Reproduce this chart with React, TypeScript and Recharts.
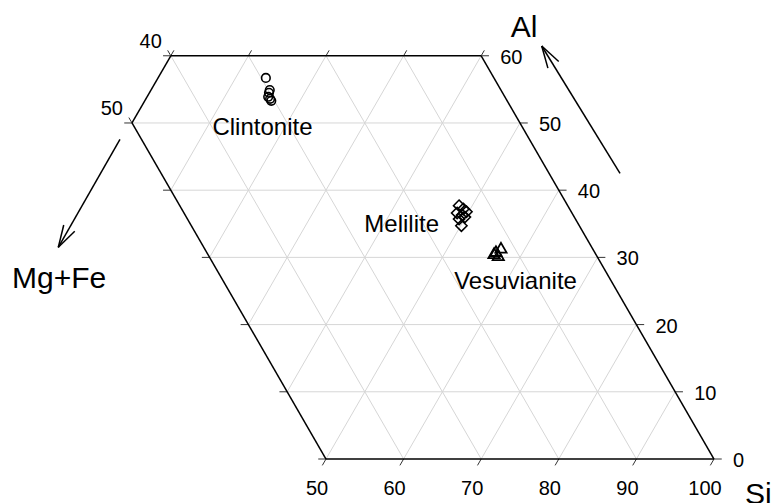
import React from "react";
import { ScatterChart, Scatter, XAxis, YAxis, ReferenceLine, ReferenceDot } from "recharts";

// Composition (mol %): Si and Al, with Mg+Fe = 100 - Si - Al
const CLINTONITE_SI = [13.9, 15.3, 15.4, 15.6, 16.0, 16.3];
const CLINTONITE_AL = [56.7, 54.9, 54.5, 53.9, 53.6, 53.3];
const MELILITE_SI = [48.3, 49.1, 49.7, 48.6, 49.4, 49.9, 49.3, 50.1];
const MELILITE_AL = [37.7, 37.2, 36.8, 36.6, 36.3, 36.0, 35.7, 34.7];
const VESUVIANITE_SI = [56.9, 56.5, 57.1, 56.4];
const VESUVIANITE_AL = [31.3, 30.8, 30.2, 30.5];

// axis ticks
const SI_TICKS = [50, 60, 70, 80, 90, 100];
const SI_TOP_TICKS = [0, 10, 20, 30, 40];
const AL_TICKS = [0, 10, 20, 30, 40, 50, 60];
const MGFE_TICKS = [40, 50];
const GRID_STEPS = [10, 20, 30, 40, 50, 60, 70, 80, 90];

const W = 772;
const H = 503;
const SCALE = 7.76; // px per unit
const X_DOMAIN = [100 - 714 / SCALE, 100 + (W - 714) / SCALE];
const Y_DOMAIN = [-(H - 459) / SCALE, 459 / SCALE];
const FONT = "'Liberation Sans', Arial, Helvetica, sans-serif";
const S3 = Math.sqrt(3) / 2;

// ternary (Si, Al) -> cartesian
const tern = (si: number, al: number) => ({ x: si + al / 2, y: al * S3 });

const toPoints = (si: number[], al: number[]) => si.map((s, i) => tern(s, al[i]));

const clintonite = toPoints(CLINTONITE_SI, CLINTONITE_AL);
const melilite = toPoints(MELILITE_SI, MELILITE_AL);
const vesuvianite = toPoints(VESUVIANITE_SI, VESUVIANITE_AL);

type Seg = [{ x: number; y: number }, { x: number; y: number }];

// grid lines inside Al 0..60, Mg+Fe 0..50, Si >= 0
const grid: Seg[] = [];
AL_TICKS.filter((a) => a > 0 && a < 60).forEach((a) => {
  grid.push([tern(Math.max(0, 50 - a), a), tern(100 - a, a)]);
});
GRID_STEPS.forEach((k) => {
  const lo = Math.max(0, 50 - k);
  const hi = Math.min(60, 100 - k);
  if (hi > lo) grid.push([tern(k, lo), tern(k, hi)]);
});
[10, 20, 30, 40].forEach((m) => {
  grid.push([tern(100 - m, 0), tern(40 - m, 60)]);
});

const frame: Seg[] = [
  [tern(50, 0), tern(100, 0)],
  [tern(100, 0), tern(40, 60)],
  [tern(40, 60), tern(0, 60)],
  [tern(0, 60), tern(0, 50)],
  [tern(0, 50), tern(50, 0)],
];

const TL = 0.95;
const ticks: Seg[] = [];
SI_TICKS.forEach((s) => {
  const p = tern(s, 0);
  ticks.push([p, { x: p.x - TL * 0.5, y: p.y - TL * S3 }]);
});
SI_TOP_TICKS.forEach((s) => {
  const p = tern(s, 60);
  ticks.push([p, { x: p.x + TL * 0.5 * 0.85, y: p.y + TL * S3 * 0.85 }]);
});
AL_TICKS.forEach((a) => {
  const r = tern(100 - a, a);
  ticks.push([r, { x: r.x + 1.0, y: r.y }]);
  const l = tern(Math.max(0, 50 - a), a);
  ticks.push([l, { x: l.x - 1.0, y: l.y }]);
});
MGFE_TICKS.forEach((m) => {
  const p = tern(0, 100 - m > 60 ? 60 : 100 - m);
  ticks.push([p, { x: p.x - TL * 0.5 * 0.85, y: p.y + TL * S3 * 0.85 }]);
});

// arrows (plot units): tail -> tip
const arrowLines = (tail: { x: number; y: number }, tip: { x: number; y: number }): Seg[] => {
  const dx = tail.x - tip.x;
  const dy = tail.y - tip.y;
  const len = Math.hypot(dx, dy);
  const ux = dx / len;
  const uy = dy / len;
  const L = 23 / SCALE;
  const a = (16 * Math.PI) / 180;
  const rot = (t: number) => ({
    x: tip.x + L * (ux * Math.cos(t) - uy * Math.sin(t)),
    y: tip.y + L * (ux * Math.sin(t) + uy * Math.cos(t)),
  });
  return [[tail, tip], [tip, rot(a)], [tip, rot(-a)]];
};
const arrows: Seg[] = [
  ...arrowLines({ x: 87.89, y: 36.82 }, { x: 77.8, y: 53.22 }),
  ...arrowLines({ x: 23.45, y: 41.2 }, { x: 15.5, y: 27.28 }),
];

const Circle = (p: any) => <circle cx={p.cx} cy={p.cy} r={4.3} fill="none" stroke="#000" strokeWidth={1.6} />;
const Diamond = (p: any) => {
  const d = 5.6;
  return (
    <polygon
      points={`${p.cx},${p.cy - d} ${p.cx + d},${p.cy} ${p.cx},${p.cy + d} ${p.cx - d},${p.cy}`}
      fill="none"
      stroke="#000"
      strokeWidth={1.6}
    />
  );
};
const Triangle = (p: any) => (
  <polygon
    points={`${p.cx},${p.cy - 5.8} ${p.cx + 5.6},${p.cy + 4} ${p.cx - 5.6},${p.cy + 4}`}
    fill="none"
    stroke="#000"
    strokeWidth={1.8}
  />
);

const textDot = (
  key: string,
  pos: { x: number; y: number },
  value: string,
  size: number,
  anchor: string,
  dx: number,
  dy: number
) => (
  <ReferenceDot
    key={key}
    x={pos.x}
    y={pos.y}
    r={0}
    ifOverflow="visible"
    shape={(p: any) => (
      <text x={p.cx + dx} y={p.cy + dy} textAnchor={anchor} fontSize={size} fontFamily={FONT} fill="#000">
        {value}
      </text>
    )}
  />
);

const segLine = (key: string, s: Seg, stroke: string, width: number) => (
  <ReferenceLine key={key} segment={s} stroke={stroke} strokeWidth={width} ifOverflow="visible" />
);

export default function App() {
  return (
    <div style={{ position: "absolute", left: 0, top: 0, width: W, height: H, background: "#fff" }}>
      <ScatterChart width={W} height={H} margin={{ top: 0, right: 0, bottom: 0, left: 0 }}>
        <XAxis type="number" dataKey="x" domain={X_DOMAIN} hide allowDataOverflow />
        <YAxis type="number" dataKey="y" domain={Y_DOMAIN} hide allowDataOverflow />
        {grid.map((s, i) => segLine(`g${i}`, s, "#d6d6d6", 1))}
        {ticks.map((s, i) => segLine(`t${i}`, s, "#333", 1))}
        {frame.map((s, i) => segLine(`f${i}`, s, "#000", 1.5))}
        {arrows.map((s, i) => segLine(`a${i}`, s, "#000", 1.5))}

        {SI_TICKS.map((s) => textDot(`si${s}`, tern(s, 0), String(s), 20, "middle", -9, 35.5))}
        {AL_TICKS.map((a) => textDot(`al${a}`, tern(100 - a, a), String(a), 20, "start", 19, 8))}
        {MGFE_TICKS.map((m) => textDot(`mf${m}`, tern(0, Math.min(60, 100 - m)), String(m), 20, "end", -9, -8))}

        {textDot("tAl", { x: 75.52, y: 54.38 }, "Al", 30, "middle", 0, 0)}
        {textDot("tMg", { x: 9.54, y: 22.04 }, "Mg+Fe", 30, "start", 0, 0)}
        {textDot("tSi", { x: 104.0, y: -5.8 }, "Si", 30, "start", 0, 0)}

        {textDot("lC", tern(17.71, 48.21), "Clintonite", 24, "middle", 0, 0)}
        {textDot("lM", tern(47.7, 33.73), "Melilite", 24, "end", 0, 0)}
        {textDot("lV", tern(61.8, 25.25), "Vesuvianite", 24, "middle", 0, 0)}

        <Scatter data={clintonite} shape={Circle} isAnimationActive={false} />
        <Scatter data={melilite} shape={Diamond} isAnimationActive={false} />
        <Scatter data={vesuvianite} shape={Triangle} isAnimationActive={false} />
      </ScatterChart>
    </div>
  );
}
